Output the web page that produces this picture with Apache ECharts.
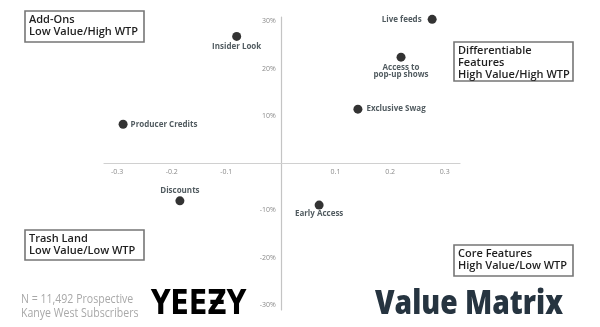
<!DOCTYPE html>
<html>
<head>
<meta charset="utf-8">
<script src="https://cdn.jsdelivr.net/npm/echarts@6/dist/echarts.min.js"></script>
<style>html,body{margin:0;padding:0;background:#fff}#c{width:600px;height:327px}</style>
</head>
<body>
<div id="c"></div>
<script>
// ---- data ----
const features = ['Live feeds', 'Insider Look', 'Access to\npop-up shows', 'Exclusive Swag', 'Producer Credits', 'Discounts', 'Early Access'];
const valueScore = [0.277, -0.081, 0.220, 0.141, -0.289, -0.185, 0.070];
const wtpScore = [0.304, 0.268, 0.224, 0.114, 0.082, -0.080, -0.089];
const xTicks = [-0.3, -0.2, -0.1, 0.1, 0.2, 0.3];
const yTicks = [-0.3, -0.2, -0.1, 0.1, 0.2, 0.3];
const quadrants = [
  'Add-Ons\nLow Value/High WTP',
  'Differentiable\nFeatures\nHigh Value/High WTP',
  'Trash Land\nLow Value/Low WTP',
  'Core Features\nHigh Value/Low WTP'
];
const sampleNote = 'N = 11,492 Prospective\nKanye West Subscribers';
const brand = 'YEEƵY';
const titleText = 'Value Matrix';

// ---- styling ----
const labelPos = {
  'Live feeds': ['left', 6],
  'Insider Look': ['bottom', 2],
  'Access to\npop-up shows': ['bottom', 3],
  'Exclusive Swag': ['right', 4],
  'Producer Credits': ['right', 3],
  'Discounts': ['top', 2],
  'Early Access': ['bottom', 1]
};
const font = '"Open Sans", sans-serif';
const dark = '#263238';
const xMin = -0.324, xMax = 0.328, yMin = -0.311, yMax = 0.309;
const gLeft = 104, gRight = 140, gTop = 17, gBottom = 17;
const gW = 600 - gLeft - gRight, gH = 327 - gTop - gBottom;
// offsets that put each axis on the other's zero
const xAxisOffset = -gH * (0 - yMin) / (yMax - yMin);
const yAxisOffset = -gW * (0 - xMin) / (xMax - xMin);

const data = features.map((n, i) => {
  const p = labelPos[n][0];
  return {
    name: n,
    value: [valueScore[i], wtpScore[i]],
    label: { position: p, distance: labelPos[n][1],
      align: p === 'left' ? 'right' : p === 'right' ? 'left' : 'center' }
  };
});

function box(x, y, w, h, text) {
  return {
    type: 'group', x: x, y: y,
    children: [
      { type: 'rect', shape: { x: 0, y: 0, width: w, height: h },
        style: { fill: '#fff', stroke: '#767676', lineWidth: 1.6 } },
      { type: 'text', x: 4, y: 3.5,
        style: { text: text, font: '600 11px ' + font, fill: '#1e1e1e', lineHeight: 11.7 } }
    ]
  };
}

const chart = echarts.init(document.getElementById('c'), null, { renderer: 'canvas' });
chart.setOption({
  animation: false,
  grid: { left: gLeft, right: gRight, top: gTop, bottom: gBottom },
  xAxis: {
    type: 'value', min: xMin, max: xMax, offset: xAxisOffset,
    axisLine: { onZero: false, lineStyle: { color: '#d0d0d0', width: 1.2 } },
    axisTick: { show: false },
    splitLine: { show: false },
    axisLabel: {
      customValues: xTicks, color: '#8a8a8a', fontSize: 7, fontFamily: font, margin: 5,
      formatter: v => String(Math.round(v * 10) / 10)
    }
  },
  yAxis: {
    type: 'value', min: yMin, max: yMax, offset: yAxisOffset,
    axisLine: { onZero: false, lineStyle: { color: '#c4c4c4', width: 1.2 } },
    axisTick: { show: false },
    splitLine: { show: false },
    axisLabel: {
      customValues: yTicks, color: '#8a8a8a', fontSize: 7, fontFamily: font, margin: 5,
      formatter: v => Math.round(v * 100) + '%'
    }
  },
  series: [{
    type: 'scatter',
    symbolSize: 9,
    itemStyle: { color: '#000' },
    label: {
      show: true, formatter: '{b}', color: dark, fontSize: 8, fontWeight: 'bold',
      fontFamily: font, lineHeight: 7
    },
    data: data
  }],
  graphic: [
    box(25, 11, 119, 31, quadrants[0]),
    box(454, 42, 119, 39, quadrants[1]),
    box(25, 230, 119, 30, quadrants[2]),
    box(454, 245, 119, 31, quadrants[3]),
    { type: 'text', x: 21, y: 293, scaleX: 0.88,
      style: { text: sampleNote, font: '500 12px ' + font, fill: '#a8a8a8', lineHeight: 14 } },
    { type: 'text', x: 151, y: 288.5, scaleX: 0.88,
      style: { text: brand, font: 'bold 34px "DejaVu Sans Condensed", "DejaVu Sans", sans-serif', fill: '#000' } },
    { type: 'text', x: 375, y: 287.5, scaleX: 0.83,
      style: { text: titleText, font: '800 34px ' + font, fill: '#263440' } }
  ]
});
</script>
</body>
</html>
